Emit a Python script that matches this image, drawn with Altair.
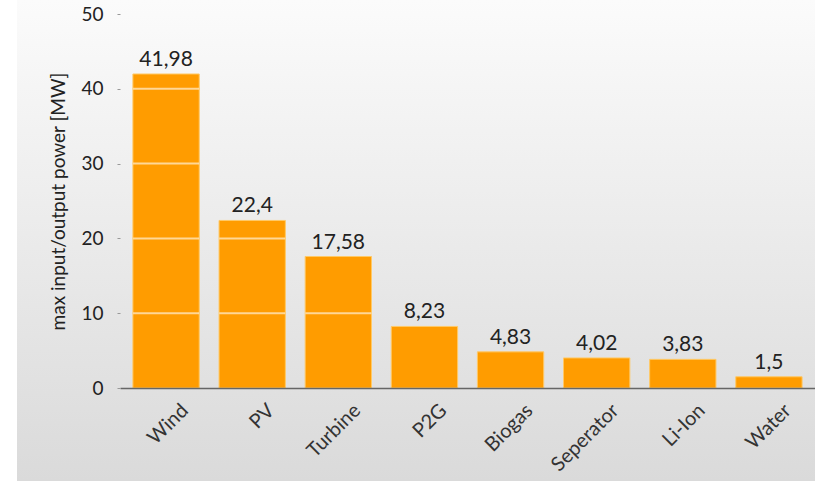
import altair as alt
import pandas as pd

categories = ["Wind", "PV", "Turbine", "P2G", "Biogas", "Seperator", "Li-Ion", "Water"]
values = [41.98, 22.4, 17.58, 8.23, 4.83, 4.02, 3.83, 1.5]
y_ticks = [0, 10, 20, 30, 40, 50]
grid_levels = [10, 20, 30, 40]

labels = [f"{v:g}".replace(".", ",") for v in values]
df = pd.DataFrame({"cat": categories, "val": values, "label": labels})
grid_rows = [{"cat": c, "level": g} for c, v in zip(categories, values) for g in grid_levels if g < v]
gdf = pd.DataFrame(grid_rows)

FONT = "Lato"
W, H = 695, 374

x_scale = alt.Scale(domain=categories, paddingInner=0.23, paddingOuter=0.15)
y_scale = alt.Scale(domain=[0, 50], nice=False)

bg = alt.Chart(pd.DataFrame({"a": [0]})).mark_rect(
    color=alt.Gradient(
        gradient="linear", x1=0, x2=0, y1=0, y2=1,
        stops=[alt.GradientStop(color="#fbfbfb", offset=0),
               alt.GradientStop(color="#dadada", offset=1)]
    )
).encode(x=alt.value(-103), x2=alt.value(W), y=alt.value(-14), y2=alt.value(467))

bars = alt.Chart(df).mark_bar(color="#FF9C00", stroke="#FFC966", strokeWidth=1).encode(
    x=alt.X("cat:N", scale=x_scale, sort=categories,
            axis=alt.Axis(title=None, labelAngle=-45, labelFont=FONT, labelFontSize=20,
                          labelColor="#333333", labelPadding=12, labelOffset=12, ticks=False,
                          domainColor="#666666", domainWidth=1.5, labelAlign="right",
                          labelBaseline="top", zindex=1)),
    y=alt.Y("val:Q", scale=y_scale,
            axis=alt.Axis(title="max input/output power [MW]", values=y_ticks, grid=False,
                          domain=False, tickSize=3, tickColor="#999999", labelPadding=14,
                          labelFont=FONT, labelFontSize=19, labelColor="#222222",
                          titleFont=FONT, titleFontSize=19, titleFontWeight="normal",
                          titleColor="#222222", titlePadding=12, zindex=1)),
)

gridlines = alt.Chart(gdf).mark_tick(orient="horizontal", color="#FFF1D6", thickness=2, size=66).encode(
    x=alt.X("cat:N", scale=x_scale, sort=categories),
    y=alt.Y("level:Q", scale=y_scale),
)

text = alt.Chart(df).mark_text(font=FONT, fontSize=21, color="#222222", baseline="alphabetic", dy=-8).encode(
    x=alt.X("cat:N", scale=x_scale, sort=categories),
    y=alt.Y("val:Q", scale=y_scale),
    text="label:N",
)

chart = alt.layer(bg, bars, gridlines, text).properties(
    width=W, height=H,
    padding={"left": 120, "top": 14, "right": 0, "bottom": 93},
    autosize=alt.AutoSizeParams(type="none"),
    background="white",
).configure_view(stroke=None)

chart.save("out.html", embed_options={"renderer": "svg", "actions": False})
